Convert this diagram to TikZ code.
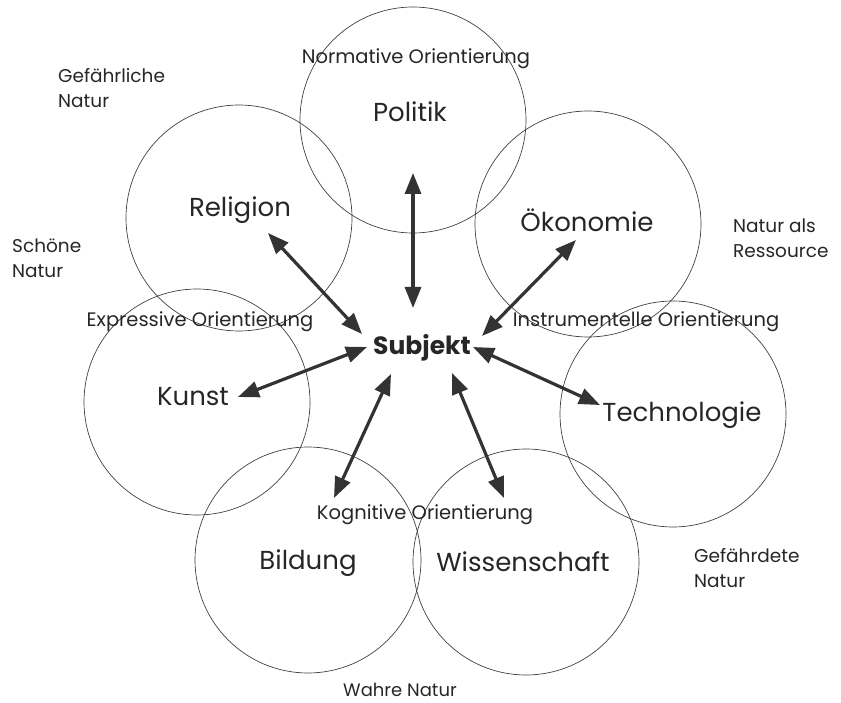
\documentclass[tikz,border=0pt]{standalone}
\usepackage{fontspec}
\setmainfont{Poppins}
\usetikzlibrary{arrows.meta}
\begin{document}
\begin{tikzpicture}[x=1pt,y=-1pt,
  ring/.style={draw=black!75, line width=0.7pt, circle, minimum size=226pt, inner sep=0pt},
  big/.style={font=\fontsize{26}{30}\selectfont, text=black!85, inner sep=0pt},
  small/.style={font=\fontsize{19.5}{22}\selectfont, text=black!85, inner sep=0pt},
  side/.style={font=\fontsize{18.5}{25}\selectfont, text=black!85, inner sep=0pt, align=left, anchor=west},
  link/.style={draw=black!80, line width=3.2pt, {Triangle[length=21pt,width=16pt]}-{Triangle[length=21pt,width=16pt]}}]
\useasboundingbox (0,0) rectangle (841,703);
% circles
\node[ring] (cpol) at (413,120) {};
\node[ring] (crel) at (239,218) {};
\node[ring] (coek) at (588,224) {};
\node[ring] (ckun) at (197,402) {};
\node[ring] (ctec) at (673,414) {};
\node[ring] (cbil) at (308,560) {};
\node[ring] (cwis) at (526,562) {};
% main labels
\node[big] (pol) at (410,112) {Politik};
\node[big] (rel) at (240,210) {Religion};
\node[big] (oek) at (587,220) {Ökonomie};
\node[big] (kun) at (193,397) {Kunst};
\node[big] (tec) at (682,415) {Technologie};
\node[big] (bil) at (308,563) {Bildung};
\node[big] (wis) at (523,562) {Wissenschaft};
\node[big, font=\fontsize{25}{30}\selectfont\bfseries] (subj) at (422,348) {Subjekt};
% orientation labels
\node[small] (lnorm) at (416,59) {Normative Orientierung};
\node[small] (lexp) at (200,322) {Expressive Orientierung};
\node[small] (linst) at (646,322) {Instrumentelle Orientierung};
\node[small] (lkog) at (425,515) {Kognitive Orientierung};
% nature labels
\node[side] (n1) at (58,88) {Gefährliche\\Natur};
\node[side] (n2) at (12,258) {Schöne\\Natur};
\node[side] (n3) at (733,238) {Natur als\\Ressource};
\node[side] (n4) at (694,568) {Gefährdete\\Natur};
\node[small, font=\fontsize{18}{22}\selectfont] (n5) at (400,690) {Wahre Natur};
% arrow end points
\coordinate (apol1) at (413,173); \coordinate (apol2) at (413,308);
\coordinate (arel1) at (268,233); \coordinate (arel2) at (362,334);
\coordinate (aoek1) at (576,240); \coordinate (aoek2) at (482,336);
\coordinate (akun1) at (238,397); \coordinate (akun2) at (367,347);
\coordinate (atec1) at (600,405); \coordinate (atec2) at (473,347);
\coordinate (abil1) at (334,498); \coordinate (abil2) at (391,374);
\coordinate (awis1) at (504,498); \coordinate (awis2) at (452,373);
\draw[link] (apol1) -- (apol2);
\draw[link] (arel1) -- (arel2);
\draw[link] (aoek1) -- (aoek2);
\draw[link] (akun1) -- (akun2);
\draw[link] (atec1) -- (atec2);
\draw[link] (abil1) -- (abil2);
\draw[link] (awis1) -- (awis2);
\end{tikzpicture}
\end{document}
